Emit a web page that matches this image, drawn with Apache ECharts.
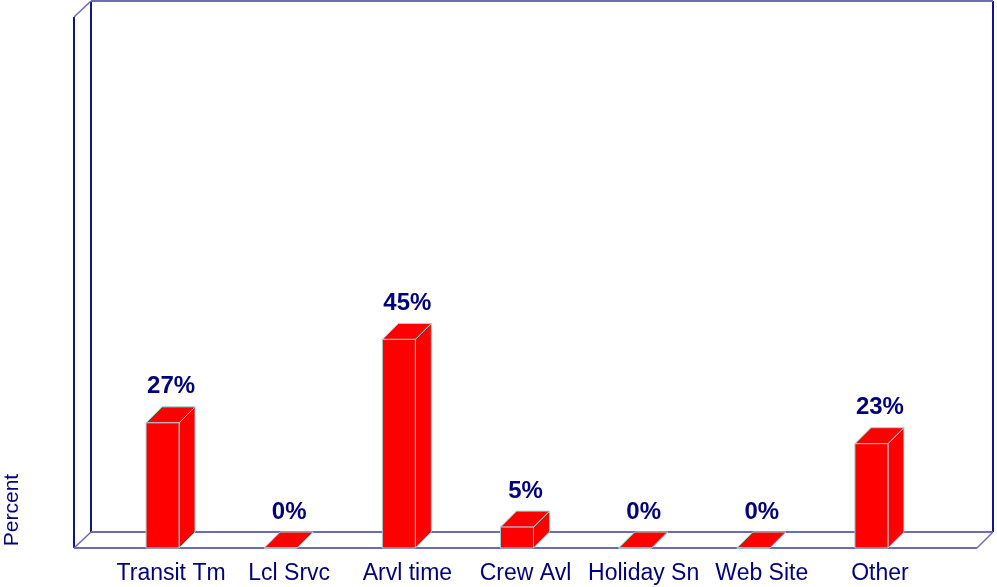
<!DOCTYPE html>
<html>
<head>
<meta charset="utf-8">
<script src="https://cdn.jsdelivr.net/npm/echarts@6/dist/echarts.min.js"></script>
<style>
    html, body {margin: 0; padding: 0; background: #fff;}
    #chart {width: 997px; height: 587px;}
</style>
</head>
<body>
<div id="chart"></div>
<script>
// categories and share of answers (percent)
const categories = ['Transit Tm', 'Lcl Srvc', 'Arvl time', 'Crew Avl', 'Holiday Sn', 'Web Site', 'Other'];
const percent_values = [27.27, 0, 45.45, 4.55, 0, 0, 22.73];

const navy = '#000080';
const line_light = '#6b6bb6';
const line_dark = '#14148a';
const font = 'Liberation Sans, Arial, sans-serif';

// depth of the fake 3d box
const depth_x = 16, depth_y = 16;

function render_bar(params, api) {
    let v = api.value(1);
    let base = api.coord([api.value(0), 0]);
    let top = api.coord([api.value(0), v]);
    let cx = base[0];
    let x0 = cx - 25, x1 = cx + 8;
    let yb = base[1], yt = top[1];
    let face = {fill: '#ff0000', stroke: '#7fe6e6', lineWidth: 1};
    return {
        type: 'group',
        children: [
            {
                type: 'polygon',
                shape: {points: [[x1, yt], [x1 + depth_x, yt - depth_y], [x1 + depth_x, yb - depth_y], [x1, yb]]},
                style: face
            },
            {
                type: 'polygon',
                shape: {points: [[x0, yt], [x0 + depth_x, yt - depth_y], [x1 + depth_x, yt - depth_y], [x1, yt]]},
                style: face
            },
            {
                type: 'rect',
                shape: {x: x0, y: yt, width: x1 - x0, height: yb - yt},
                style: {fill: '#ff0000', stroke: '#a0cfcf', lineWidth: 1}
            },
            {
                type: 'text',
                x: cx,
                y: yt - depth_y - 20,
                style: {
                    text: Math.round(v) + '%',
                    fill: navy,
                    font: 'bold 24px ' + font,
                    align: 'center',
                    verticalAlign: 'middle'
                }
            }
        ]
    };
}

function frame_line(points, color, width) {
    return {
        type: 'polyline',
        silent: true,
        z: 0,
        shape: {points: points},
        style: {stroke: color, lineWidth: width || 1.5, fill: null}
    };
}

let chart = echarts.init(document.getElementById('chart'), null, {renderer: 'canvas'});

let option = {
    animation: false,
    backgroundColor: '#ffffff',
    grid: {left: 112, right: 58, top: 89, bottom: 39},
    xAxis: {
        type: 'category',
        data: categories,
        axisLine: {show: false},
        axisTick: {show: false},
        axisLabel: {color: navy, fontSize: 23, fontFamily: font, margin: 14, interval: 0}
    },
    yAxis: {
        type: 'value',
        min: 0,
        max: 100,
        show: false
    },
    graphic: [
        // back wall
        frame_line([[91, 532], [91, 1]], line_dark, 2),
        frame_line([[993, 1], [993, 532]], line_dark, 2),
        frame_line([[91, 1], [993, 1]], line_light, 2),
        frame_line([[91, 532], [993, 532]], line_light, 2),
        // left wall
        frame_line([[74, 548], [74, 17]], line_dark, 2),
        frame_line([[74, 17], [91, 1]], line_light),
        frame_line([[74, 548], [91, 532]], line_light),
        // floor front edge
        frame_line([[74, 548], [977, 548]], line_light, 2),
        frame_line([[977, 548], [993, 532]], line_light),
        {
            type: 'text',
            x: 12,
            y: 510,
            rotation: Math.PI / 2,
            style: {
                text: 'Percent',
                fill: navy,
                font: '21px ' + font,
                align: 'center',
                verticalAlign: 'middle'
            }
        }
    ],
    series: [{
        type: 'custom',
        renderItem: render_bar,
        z: 10,
        data: percent_values.map((v, i) => [i, v])
    }]
};

chart.setOption(option);
</script>
</body>
</html>
